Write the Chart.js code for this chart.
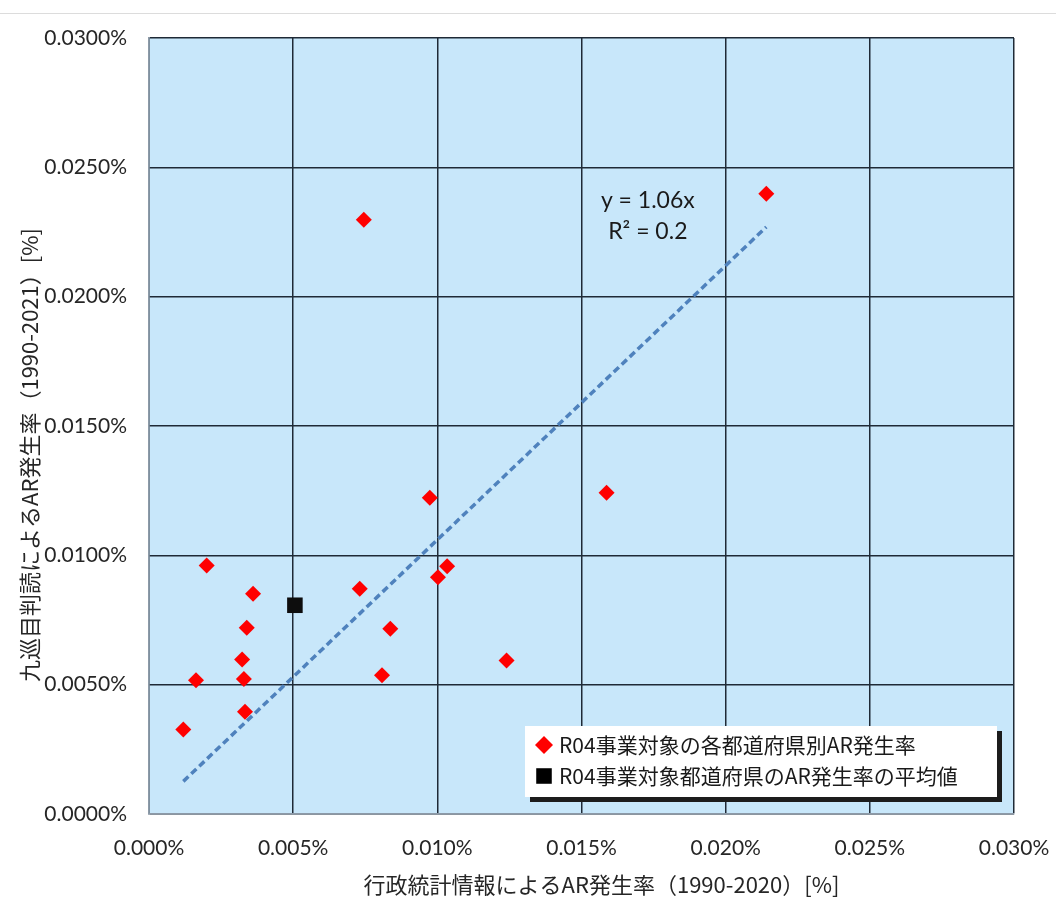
<!DOCTYPE html>
<html>
<head>
<meta charset="utf-8">
<script src="https://cdn.jsdelivr.net/npm/chart.js@4.4.1/dist/chart.umd.min.js"></script>
<style>
    html, body { margin: 0; padding: 0; background: #fff; }
    #wrap { width: 1056px; height: 899px; position: relative; }
</style>
</head>
<body>
<div id="wrap"><canvas id="arChart" width="1056" height="899"></canvas></div>
<script>
// values are in percent units (0.010 -> "0.010%")
const prefX = [0.00200, 0.00361, 0.00731, 0.01034, 0.01002, 0.00339, 0.00837, 0.00323, 0.00163,
    0.00329, 0.00808, 0.01240, 0.00333, 0.00119, 0.01587, 0.00974, 0.00745, 0.02141];
const prefY = [0.00961, 0.00851, 0.00871, 0.00958, 0.00915, 0.00720, 0.00716, 0.00597, 0.00517,
    0.00522, 0.00536, 0.00593, 0.00395, 0.00327, 0.01242, 0.01223, 0.02297, 0.02398];
const avgX = [0.00506];
const avgY = [0.00807];
const trendSlope = 1.06;
const trendR2 = 0.2;
const seriesLabels = ["R04事業対象の各都道府県別AR発生率", "R04事業対象都道府県のAR発生率の平均値"];
const xTitle = "行政統計情報によるAR発生率（1990-2020）[%]";
const yTitle = "九巡目判読によるAR発生率（1990-2021）[%]";
const axisMin = 0;
const axisMax = 0.03;
const axisStep = 0.005;

const FONT = 'Lato, "Noto Sans CJK JP", sans-serif';
const JFONT = '"Noto Sans CJK JP", Lato, sans-serif';

const xMin = Math.min(...prefX);
const xMax = Math.max(...prefX);

const plotExtras = {
    id: "plotExtras",
    beforeDraw(chart) {
        const { ctx, chartArea: a } = chart;
        ctx.save();
        ctx.fillStyle = "#c8e7fa";
        ctx.fillRect(a.left, a.top, a.right - a.left, a.bottom - a.top);
        ctx.strokeStyle = "#dcdcdc";
        ctx.lineWidth = 1;
        ctx.beginPath();
        ctx.moveTo(0, 13.5);
        ctx.lineTo(chart.width, 13.5);
        ctx.stroke();
        ctx.restore();
    },
    afterDraw(chart) {
        const { ctx, chartArea: a, scales } = chart;
        ctx.save();

        // trendline equation
        ctx.fillStyle = "#1a1a1a";
        ctx.font = "23px " + FONT;
        ctx.textAlign = "center";
        ctx.textBaseline = "middle";
        const ex = scales.x.getPixelForValue(0.0173);
        const ey = scales.y.getPixelForValue(0.0237);
        ctx.fillText("y = " + trendSlope.toFixed(2) + "x", ex, ey);
        ctx.fillText("R² = " + trendR2, ex, ey + 31);

        // axis titles
        ctx.font = "22px " + JFONT;
        ctx.fillStyle = "#262626";
        ctx.fillText(xTitle, (a.left + a.right) / 2 + 20, 885);
        ctx.translate(30, (a.top + a.bottom) / 2 + 29);
        ctx.rotate(-Math.PI / 2);
        ctx.fillText(yTitle, 0, 0);
        ctx.restore();

        // legend box
        ctx.save();
        const bw = 472, bh = 71;
        const bx = a.right - 17 - bw;
        const by = a.bottom - 17 - bh;
        ctx.fillStyle = "#1c1c1c";
        ctx.fillRect(bx + 5, by + 5, bw, bh);
        ctx.fillStyle = "#ffffff";
        ctx.fillRect(bx, by, bw, bh);
        ctx.font = "21px " + JFONT;
        ctx.textAlign = "left";
        ctx.textBaseline = "middle";
        const rows = [
            { y: by + 19, color: "#ff0000", style: "rectRot", r: 9 },
            { y: by + 50, color: "#000000", style: "rect", r: 11 },
        ];
        rows.forEach((row, i) => {
            ctx.fillStyle = row.color;
            Chart.helpers.drawPoint(ctx, { pointStyle: row.style, radius: row.r, borderWidth: 0 }, bx + 19, row.y);
            ctx.fillStyle = "#1a1a1a";
            ctx.fillText(seriesLabels[i], bx + 34, row.y);
        });
        ctx.restore();
    },
};

const ctxEl = document.getElementById("arChart");

new Chart(ctxEl, {
    type: "scatter",
    data: {
        datasets: [
            {
                label: seriesLabels[0],
                data: prefX.map((x, i) => ({ x: x, y: prefY[i] })),
                pointStyle: "rectRot",
                pointRadius: 8,
                pointHoverRadius: 8,
                backgroundColor: "#ff0000",
                borderColor: "#ff0000",
                borderWidth: 0,
                order: 2,
            },
            {
                label: seriesLabels[1],
                data: avgX.map((x, i) => ({ x: x, y: avgY[i] })),
                pointStyle: "rect",
                pointRadius: 11,
                pointHoverRadius: 11,
                backgroundColor: "#0d0d0d",
                borderColor: "#0d0d0d",
                borderWidth: 0,
                order: 2,
            },
            {
                label: "trend",
                type: "line",
                data: [
                    { x: xMin, y: trendSlope * xMin },
                    { x: xMax, y: trendSlope * xMax },
                ],
                borderColor: "#4f82bd",
                borderWidth: 3.5,
                borderDash: [7, 4],
                pointRadius: 0,
                fill: false,
                order: 1,
            },
        ],
    },
    options: {
        responsive: false,
        animation: false,
        layout: { padding: { top: 38, right: 42, left: 0, bottom: 0 } },
        plugins: {
            legend: { display: false },
            tooltip: { enabled: false },
        },
        scales: {
            x: {
                type: "linear",
                min: axisMin,
                max: axisMax,
                afterFit(scale) {
                    scale.height = 85;
                    scale.paddingLeft = 0;
                    scale.paddingRight = 0;
                },
                ticks: {
                    stepSize: axisStep,
                    padding: 22,
                    color: "#262626",
                    font: { family: FONT, size: 21 },
                    callback: (v) => v.toFixed(3) + "%",
                },
                grid: { color: "#1f2a36", lineWidth: 1.5, drawTicks: false },
                border: { color: "#8c9aa8", width: 1.5 },
            },
            y: {
                type: "linear",
                min: axisMin,
                max: axisMax,
                afterFit(scale) {
                    scale.width = 149;
                    scale.paddingTop = 0;
                    scale.paddingBottom = 0;
                },
                ticks: {
                    stepSize: axisStep,
                    padding: 22,
                    color: "#262626",
                    font: { family: FONT, size: 21 },
                    callback: (v) => v.toFixed(4) + "%",
                },
                grid: { color: "#1f2a36", lineWidth: 1.5, drawTicks: false },
                border: { color: "#8c9aa8", width: 1.5 },
            },
        },
    },
    plugins: [plotExtras],
});
</script>
</body>
</html>
